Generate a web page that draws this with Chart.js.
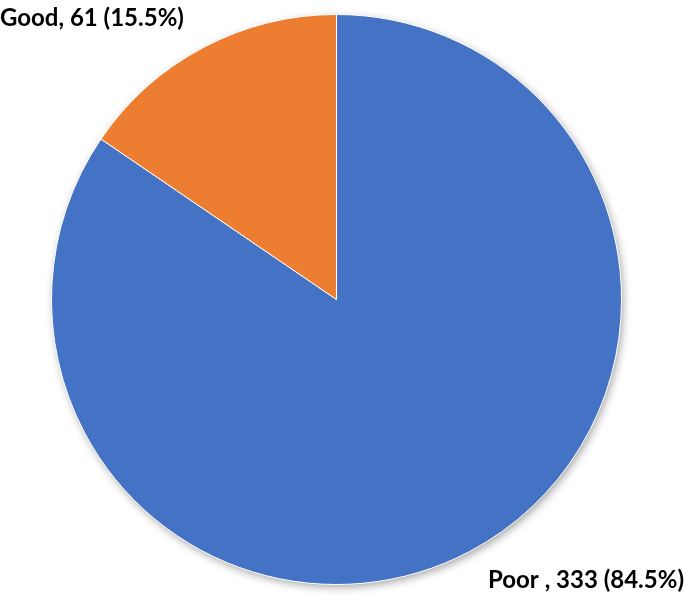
<!DOCTYPE html>
<html>
<head>
<meta charset="utf-8">
<script src="https://cdn.jsdelivr.net/npm/chart.js@4.4.0/dist/chart.umd.min.js"></script>
<style>
  html, body { margin: 0; padding: 0; background: #fff; }
  #wrap { width: 685px; height: 603px; }
</style>
</head>
<body>
<div id="wrap"><canvas id="pieChart" width="685" height="603"></canvas></div>
<script>
const categories = ['Poor ', 'Good'];
const counts = [333, 61];
const percents = ['84.5%', '15.5%'];
const colors = ['#4472C4', '#ED7D31'];

// soft shadow behind the whole pie
const pieShadow = {
    id: 'pieShadow',
    beforeDatasetsDraw(chart) {
        const arc = chart.getDatasetMeta(0).data[0];
        if (!arc) return;
        const ctx = chart.ctx;
        ctx.save();
        ctx.shadowColor = 'rgba(0,0,0,0.4)';
        ctx.shadowBlur = 10;
        ctx.shadowOffsetX = 2;
        ctx.shadowOffsetY = 3;
        ctx.fillStyle = '#fff';
        ctx.beginPath();
        ctx.arc(arc.x, arc.y, arc.outerRadius - 1, 0, Math.PI * 2);
        ctx.fill();
        ctx.restore();
    }
};

// labels like "Good, 61 (15.5%)"
const cornerLabels = {
    id: 'cornerLabels',
    afterDraw(chart) {
        const ctx = chart.ctx;
        ctx.save();
        ctx.font = 'bold 24px Lato, "Open Sans", sans-serif';
        ctx.fillStyle = '#000';
        ctx.textBaseline = 'alphabetic';
        // Good - top left
        ctx.textAlign = 'left';
        ctx.fillText(`${categories[1]}, ${counts[1]} (${percents[1]})`, 0, 26);
        // Poor - bottom right
        ctx.textAlign = 'right';
        ctx.fillText(`${categories[0]}, ${counts[0]} (${percents[0]})`, 684, 588);
        ctx.restore();
    }
};

new Chart(document.getElementById('pieChart'), {
    type: 'pie',
    data: {
        labels: categories,
        datasets: [{
            data: counts,
            backgroundColor: colors,
            borderColor: '#ffffff',
            borderWidth: 1
        }]
    },
    options: {
        responsive: false,
        animation: false,
        layout: {
            padding: { left: 51, top: 14, right: 63, bottom: 18 }
        },
        plugins: {
            legend: { display: false },
            tooltip: { enabled: false }
        }
    },
    plugins: [pieShadow, cornerLabels]
});
</script>
</body>
</html>
